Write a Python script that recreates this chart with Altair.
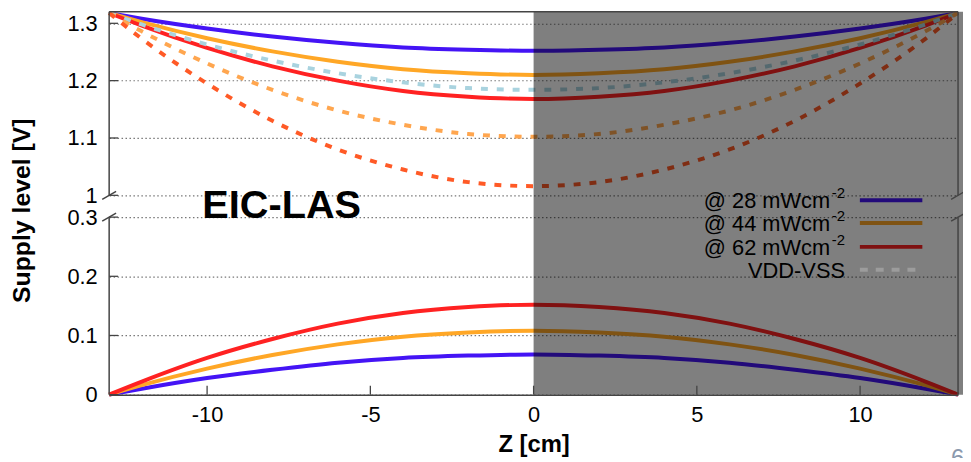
import altair as alt
import pandas as pd

# ---------------- data ----------------
x_cm = [-13, -12, -10, -8, -6, -4, -2, 0, 2, 4, 6, 8, 10, 12, 13]

vdd_28 = [1.318, 1.308, 1.291, 1.277, 1.266, 1.258, 1.254, 1.252, 1.254, 1.258, 1.266, 1.277, 1.291, 1.308, 1.318]
vdd_44 = [1.318, 1.302, 1.274, 1.251, 1.233, 1.220, 1.213, 1.210, 1.213, 1.220, 1.233, 1.251, 1.274, 1.302, 1.318]
vdd_62 = [1.318, 1.296, 1.257, 1.225, 1.200, 1.182, 1.172, 1.168, 1.172, 1.182, 1.200, 1.225, 1.257, 1.296, 1.318]
diff_28 = [1.318, 1.298, 1.263, 1.235, 1.213, 1.197, 1.187, 1.184, 1.187, 1.197, 1.213, 1.235, 1.263, 1.298, 1.318]
diff_44 = [1.318, 1.286, 1.230, 1.184, 1.148, 1.123, 1.107, 1.102, 1.107, 1.123, 1.148, 1.184, 1.230, 1.286, 1.318]
diff_62 = [1.318, 1.273, 1.195, 1.130, 1.080, 1.045, 1.023, 1.016, 1.023, 1.045, 1.080, 1.130, 1.195, 1.273, 1.318]
vss_28 = [0.0, 0.010, 0.028, 0.042, 0.054, 0.062, 0.066, 0.068, 0.066, 0.062, 0.054, 0.042, 0.028, 0.010, 0.0]
vss_44 = [0.0, 0.016, 0.044, 0.067, 0.085, 0.098, 0.105, 0.108, 0.105, 0.098, 0.085, 0.067, 0.044, 0.016, 0.0]
vss_62 = [0.0, 0.022, 0.062, 0.094, 0.120, 0.138, 0.148, 0.152, 0.148, 0.138, 0.120, 0.094, 0.062, 0.022, 0.0]

solid_names = ["VDD 28", "VDD 44", "VDD 62", "VSS 28", "VSS 44", "VSS 62"]
solid_values = [vdd_28, vdd_44, vdd_62, vss_28, vss_44, vss_62]
dashed_names = ["VDD-VSS 28", "VDD-VSS 44", "VDD-VSS 62"]
dashed_values = [diff_28, diff_44, diff_62]

legend_labels = ["@ 28 mWcm", "@ 44 mWcm", "@ 62 mWcm", "VDD-VSS"]
legend_sup = ["-2", "-2", "-2", ""]

x_ticks = [-10, -5, 0, 5, 10]
y_ticks = [0, 0.1, 0.2, 0.3, 1.0, 1.1, 1.2, 1.3]
x_domain = [-13, 13]
y_break_domain = [0, 0.3, 1.0, 1.32]   # lower panel 0-0.3, upper panel 1.0-1.32
shade_from = 0        # grey overlay starts at z = 0
shade_to = 13.2       # ... and runs to the right edge of the picture
page_number = "6"

# ---------------- styles ----------------
BLUE, ORANGE, RED = "#4414f5", "#ffa726", "#ff2222"
C_D28, C_D44, C_D62 = "#a9d3df", "#ffa64f", "#ff5a26"
LEG_GRAY = "#9c9c9c"
FRAME = "#444444"
FONT = "Liberation Sans"

series_names = solid_names + dashed_names
series_colors = [BLUE, ORANGE, RED, BLUE, ORANGE, RED, C_D28, C_D44, C_D62]
legend_colors = [BLUE, ORANGE, RED, LEG_GRAY]

W, H = 856, 386
# piecewise y range (pixels): 0 -> bottom, 0.3 -> 207, 1.0 -> 185, 1.32 -> top
y_range = [H, 207, 185, 0]

solid_df = pd.DataFrame(
    [{"z": z, "v": v, "series": n} for n, vals in zip(solid_names, solid_values) for z, v in zip(x_cm, vals)]
)
dashed_df = pd.DataFrame(
    [{"z": z, "v": v, "series": n} for n, vals in zip(dashed_names, dashed_values) for z, v in zip(x_cm, vals)]
)

xscale = alt.Scale(domain=x_domain, nice=False, zero=False)
yscale = alt.Scale(domain=y_break_domain, range=y_range, nice=False, zero=False)
cscale = alt.Scale(domain=series_names, range=series_colors)

xaxis = alt.Axis(
    title="Z [cm]", values=x_ticks, labelExpr="'' + datum.value", ticks=False, tickSize=0,
    labelPadding=10, labelFontSize=22, labelFont=FONT, labelColor="black",
    domain=True, domainColor=FRAME, domainWidth=1.5, grid=False, zindex=1,
    titleFont=FONT, titleFontSize=24, titleFontWeight="bold", titleColor="black",
    titleY=57, titleBaseline="alphabetic",
)
yaxis = alt.Axis(
    title="Supply level [V]", values=y_ticks, labelExpr="'' + datum.value", ticks=False, tickSize=0,
    labelPadding=12, labelFontSize=22, labelFont=FONT, labelColor="black",
    domain=False, grid=True, gridColor="#777777", gridDash=[1.5, 2.5], gridWidth=1.2,
    titleFont=FONT, titleFontSize=25, titleFontWeight="bold", titleColor="black",
    titleX=-80, titleY=200, titleAlign="center", titleBaseline="alphabetic",
)

X = lambda f="z:Q": alt.X(f, scale=xscale, axis=xaxis)
Y = lambda f="v:Q": alt.Y(f, scale=yscale, axis=yaxis)

solid = alt.Chart(solid_df).mark_line(strokeWidth=4, interpolate="monotone").encode(
    x=X(), y=Y(), color=alt.Color("series:N", scale=cscale, legend=None), detail="series:N"
)
dashed = alt.Chart(dashed_df).mark_line(strokeWidth=4, interpolate="monotone", strokeDash=[7, 9]).encode(
    x=X(), y=Y(), color=alt.Color("series:N", scale=cscale, legend=None), detail="series:N"
)

layers = [solid, dashed]
after_overlay = []

# manual legend (drawn beneath the grey overlay)
line_y = [190, 213, 237, 260]
for i, (lab, sup, col) in enumerate(zip(legend_labels, legend_sup, legend_colors)):
    base_right = 727 if sup else 742
    layers.append(
        alt.Chart(pd.DataFrame({"t": [lab]})).mark_text(
            font=FONT, fontSize=22, align="right", baseline="alphabetic", color="black"
        ).encode(x=alt.value(base_right), y=alt.value(line_y[i] + 8), text="t:N")
    )
    if sup:
        layers.append(
            alt.Chart(pd.DataFrame({"t": [sup]})).mark_text(
                font=FONT, fontSize=15, align="right", baseline="alphabetic", color="black"
            ).encode(x=alt.value(742), y=alt.value(line_y[i] - 2), text="t:N")
        )
        layers.append(
            alt.Chart(pd.DataFrame({"t": [lab]})).mark_rule(strokeWidth=4, color=col).encode(
                x=alt.value(757), x2=alt.value(820), y=alt.value(line_y[i])
            )
        )
    else:
        after_overlay.append(
            alt.Chart(pd.DataFrame({"t": [lab]})).mark_rule(strokeWidth=4, color=col, strokeDash=[8, 8]).encode(
                x=alt.value(757), x2=alt.value(820), y=alt.value(line_y[i])
            )
        )

# annotation
layers.append(
    alt.Chart(pd.DataFrame({"t": ["EIC-LAS"]})).mark_text(
        font=FONT, fontSize=40, fontWeight="bold", align="left", baseline="alphabetic", color="black"
    ).encode(x=alt.value(94), y=alt.value(208), text="t:N")
)

# grey overlay on the z > 0 half
overlay_df = pd.DataFrame({"z": [shade_from], "z2": [shade_to], "v": [y_break_domain[0]], "v2": [y_break_domain[-1]]})
layers.append(
    alt.Chart(overlay_df).mark_rect(color="black", opacity=0.5).encode(
        x=X(), x2="z2:Q", y=Y(), y2="v2:Q"
    )
)
layers += after_overlay

# frame with broken left/right edges
lo, hi = y_break_domain[0], y_break_domain[1]
lo2, hi2 = y_break_domain[2], y_break_domain[3]
xl, xr = x_domain
frame_df = pd.DataFrame({
    "z":  [xl, xl, xr, xr, xl],
    "z2": [xl, xl, xr, xr, xr],
    "v":  [lo, lo2, lo, lo2, hi2],
    "v2": [hi, hi2, hi, hi2, hi2],
})
layers.append(
    alt.Chart(frame_df).mark_rule(color=FRAME, strokeWidth=1.5).encode(
        x=X(), x2="z2:Q", y=Y(), y2="v2:Q"
    )
)
breaks_df = pd.DataFrame({"z": [xl, xl, xr, xr], "v": [hi, lo2, hi, lo2]})
layers.append(
    alt.Chart(breaks_df).mark_rule(
        color=FRAME, strokeWidth=1.5, xOffset=-7, x2Offset=7, yOffset=4, y2Offset=-4
    ).encode(x=X(), x2="z:Q", y=Y(), y2="v:Q")
)

# inward ticks
layers.append(
    alt.Chart(pd.DataFrame({"z": x_ticks})).mark_rule(color=FRAME, strokeWidth=1.3).encode(
        x=X(), y=alt.value(H), y2=alt.value(H - 9)
    )
)
layers.append(
    alt.Chart(pd.DataFrame({"v": y_ticks})).mark_rule(color=FRAME, strokeWidth=1.3).encode(
        y=Y(), x=alt.value(0), x2=alt.value(9)
    )
)

# slide page number in the bottom-right corner
layers.append(
    alt.Chart(pd.DataFrame({"t": [page_number]})).mark_text(
        font=FONT, fontSize=24, align="left", baseline="alphabetic", color="#8a99ad"
    ).encode(x=alt.value(849), y=alt.value(458), text="t:N")
)

chart = alt.layer(*layers).properties(
    width=W, height=H,
    autosize="none",
    padding={"left": 102, "top": 2, "right": 5, "bottom": 62},
    background="white",
).configure_view(stroke=None)

chart.save("out.html", embed_options={"renderer": "svg", "actions": False})
